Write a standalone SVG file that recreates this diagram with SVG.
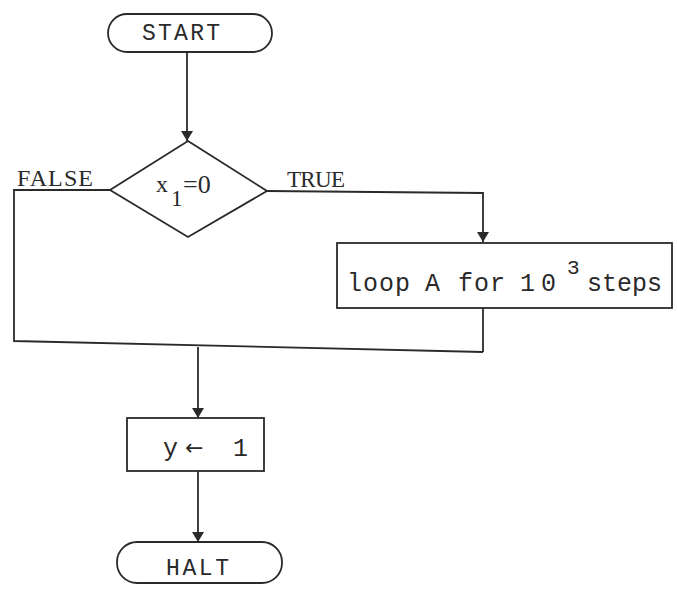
<svg xmlns="http://www.w3.org/2000/svg" width="677" height="594" viewBox="0 0 677 594">
<style>
.s{fill:none;stroke:#2a2a2a;stroke-width:1.8}
.n{fill:#fff;stroke:#2a2a2a;stroke-width:1.8}
.m{font-family:"Liberation Mono","Courier New",monospace;fill:#2a2a2a}
.r{font-family:"Liberation Serif","Times New Roman",serif;fill:#2a2a2a}
</style>
<defs>
<marker id="ah" viewBox="0 0 10 12" refX="10" refY="6" markerWidth="10" markerHeight="12" markerUnits="userSpaceOnUse" orient="auto">
<path d="M0,0 L10,6 L0,12 Z" fill="#2a2a2a"/>
</marker>
</defs>
<rect width="677" height="594" fill="#fff"/>
<g id="connectors">
<polyline class="s" points="187,53 187,141" marker-end="url(#ah)"/>
<polyline class="s" points="267,191 483,193 483,242" marker-end="url(#ah)"/>
<polyline class="s" points="110,190 14,190 14,341 483,352"/>
<polyline class="s" points="483,308 483,352"/>
<polyline class="s" points="198,347 198,418" marker-end="url(#ah)"/>
<polyline class="s" points="198,471 198,542" marker-end="url(#ah)"/>
<text class="r" x="17" y="186" font-size="24" textLength="76">FALSE</text>
<text class="r" x="287" y="187" font-size="23" textLength="58">TRUE</text>
</g>
<g id="start">
<rect class="n" x="108" y="14" width="164" height="38" rx="19"/>
<text class="m" x="142" y="40" font-size="23" textLength="78">START</text>
</g>
<g id="decision">
<polygon class="n" points="188,141 267,191 188,237 110,190"/>
<text class="r" x="156" y="192" font-size="24">x</text>
<text class="r" x="171" y="206" font-size="23">1</text>
<text class="r" x="183" y="193" font-size="26">=0</text>
</g>
<g id="loop">
<rect class="n" x="337" y="243" width="335" height="65"/>
<text class="m" font-size="25" y="291" letter-spacing="1"><tspan x="347">loop</tspan><tspan x="425">A</tspan><tspan x="458">for</tspan><tspan x="520" letter-spacing="6">10</tspan><tspan x="587" letter-spacing="0">steps</tspan></text>
<text class="m" x="567" y="274" font-size="21">3</text>
</g>
<g id="assign">
<rect class="n" x="127" y="418" width="137" height="53"/>
<text class="m" font-size="25" y="456"><tspan x="163">y</tspan><tspan x="233">1</tspan></text>
<text x="185" y="455" font-size="22" font-family="DejaVu Sans, sans-serif" fill="#2a2a2a">←</text>
</g>
<g id="halt">
<rect class="n" x="117" y="542" width="165" height="41" rx="20"/>
<text class="m" x="166" y="575" font-size="23" textLength="63">HALT</text>
</g>
</svg>
